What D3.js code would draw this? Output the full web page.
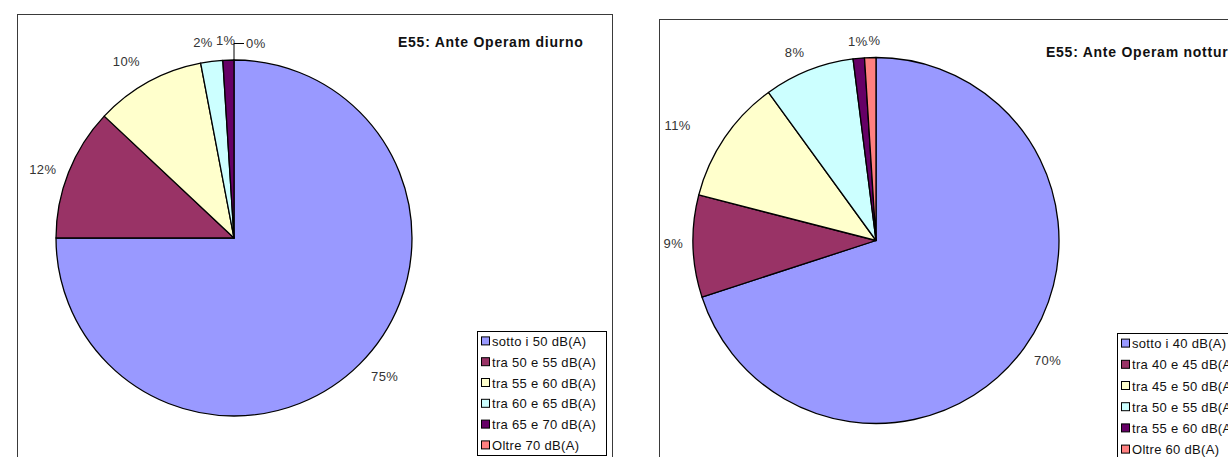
<!DOCTYPE html>
<html>
<head>
<meta charset="utf-8">
<script src="https://cdn.jsdelivr.net/npm/d3@7"></script>
<style>
  html, body { margin: 0; padding: 0; background: #fff; }
  svg { display: block; }
  text { font-family: "Liberation Sans", Arial, sans-serif; }
</style>
</head>
<body>
<svg id="chart" width="1228" height="457"></svg>
<script>
// Noise exposure classes, Ante Operam (percent of receptors)
const dayTitle = "E55: Ante Operam diurno";
const dayClasses = ["sotto i 50 dB(A)", "tra 50 e 55 dB(A)", "tra 55 e 60 dB(A)",
                    "tra 60 e 65 dB(A)", "tra 65 e 70 dB(A)", "Oltre 70 dB(A)"];
const dayValues = [75, 12, 10, 2, 1, 0];

const nightTitle = "E55: Ante Operam notturno";
const nightClasses = ["sotto i 40 dB(A)", "tra 40 e 45 dB(A)", "tra 45 e 50 dB(A)",
                      "tra 50 e 55 dB(A)", "tra 55 e 60 dB(A)", "Oltre 60 dB(A)"];
const nightValues = [70, 9, 11, 8, 1, 1];

// Classic spreadsheet palette, one colour per class
const classColors = ["#9999ff", "#993366", "#ffffcc", "#ccffff", "#660066", "#ff8080"];

const svg = d3.select("#chart");

function drawPanel(cfg) {
  const g = svg.append("g");

  // chart area frame
  g.append("rect")
    .attr("x", cfg.frame[0] + 0.5).attr("y", cfg.frame[1] + 0.5)
    .attr("width", cfg.frame[2]).attr("height", cfg.frame[3])
    .attr("fill", "#fff").attr("stroke", "#3a3a3a").attr("stroke-width", 1);

  // title
  g.append("text")
    .attr("x", cfg.title[0]).attr("y", cfg.title[1])
    .attr("font-size", 14).attr("font-weight", "bold").attr("fill", "#111")
    .attr("letter-spacing", 0.75)
    .text(cfg.titleText);

  const color = d3.scaleOrdinal().domain(cfg.classes).range(classColors);
  const data = cfg.classes.map((c, i) => ({ name: c, value: cfg.values[i] }));
  const pie = d3.pie().sort(null).value(d => d.value);
  const arcs = pie(data);
  const arc = d3.arc().innerRadius(0).outerRadius(cfg.r);

  const pg = g.append("g").attr("transform", `translate(${cfg.cx},${cfg.cy})`);
  pg.selectAll("path.slice")
    .data(arcs.filter(a => a.endAngle > a.startAngle))
    .join("path")
    .attr("class", "slice")
    .attr("d", arc)
    .attr("fill", d => color(d.data.name))
    .attr("stroke", "#000")
    .attr("stroke-width", 1.3)
    .attr("stroke-linejoin", "round");

  // percentage labels outside the pie, each on a white patch;
  // drawn last-to-first so earlier labels sit on top
  const fs = 13;
  const pad = 12;
  const labelLayer = pg.append("g");
  const placed = arcs.map((a, i) => {
    const mid = (a.startAngle + a.endAngle) / 2;
    const dx = Math.sin(mid), dy = -Math.cos(mid);
    const label = d3.format(".0f")(a.data.value) + "%";
    const w = label.length * 9.75, h = 11;
    const nudge = cfg.nudge[i] || [0, 0];
    let x = (cfg.r + pad) * dx + dx * w / 2 + nudge[0];
    let y = (cfg.r + pad) * dy + dy * h / 2 + nudge[1];
    let anchor = "middle";
    if (a.data.value === 0) {
      // empty slice: leader line up from the rim, label pushed to the right
      const ly = -(cfg.r + pad + h / 2 - 1);
      pg.append("polyline")
        .attr("points", [[cfg.r * dx, cfg.r * dy], [0, ly], [10, ly]].map(p => p.join(",")).join(" "))
        .attr("fill", "none").attr("stroke", "#000").attr("stroke-width", 1);
      x = 12; y = ly; anchor = "start";
    }
    return { label, x, y, anchor };
  });
  placed.slice().reverse().forEach(p => {
    const t = labelLayer.append("g");
    const txt = t.append("text")
      .attr("x", p.x).attr("y", p.y)
      .attr("dy", "0.36em")
      .attr("text-anchor", p.anchor)
      .attr("font-size", fs).attr("fill", "#333")
      .attr("letter-spacing", 0.4)
      .text(p.label);
    const bb = txt.node().getBBox();
    t.insert("rect", "text")
      .attr("x", bb.x).attr("y", bb.y + 1)
      .attr("width", bb.width - 1).attr("height", bb.height - 2)
      .attr("fill", "#fff");
  });

  // legend
  const lg = g.append("g").attr("transform", `translate(${cfg.legend[0]},${cfg.legend[1]})`);
  lg.append("rect")
    .attr("x", 0.5).attr("y", 0.5)
    .attr("width", cfg.legend[2]).attr("height", cfg.legend[3])
    .attr("fill", "#fff").attr("stroke", "#000").attr("stroke-width", 1);
  const row = d3.scaleBand().domain(cfg.classes).range([0, cfg.legendRow * 6]);
  const items = lg.selectAll("g.item").data(cfg.classes).join("g")
    .attr("class", "item")
    .attr("transform", d => `translate(0,${row(d) + row.bandwidth() / 2})`);
  items.append("rect")
    .attr("x", 4.5).attr("y", -4.5).attr("width", 8).attr("height", 8)
    .attr("fill", d => color(d)).attr("stroke", "#000").attr("stroke-width", 1);
  items.append("text")
    .attr("x", 15).attr("y", 0).attr("dy", "0.36em")
    .attr("font-size", 13).attr("fill", "#111")
    .attr("letter-spacing", 0.3)
    .text(d => d);
}

drawPanel({
  frame: [17, 14, 595, 460],
  titleText: dayTitle, title: [398, 47],
  classes: dayClasses, values: dayValues,
  cx: 234, cy: 238, r: 178,
  nudge: [[6, 0], [-1, 3], [-9, -5], [-6, -2], [-2, -2], [0, 0]],
  legend: [477, 331, 129, 124], legendRow: 20.8
});

drawPanel({
  frame: [659, 19, 600, 460],
  titleText: nightTitle, title: [1046, 57],
  classes: nightClasses, values: nightValues,
  cx: 876, cy: 240.5, r: 183,
  nudge: [[2, 2], [2, -3], [-25, -2], [-6, -2], [1, 0], [1, 0]],
  legend: [1117, 333, 130, 130], legendRow: 21.2
});
</script>
</body>
</html>
